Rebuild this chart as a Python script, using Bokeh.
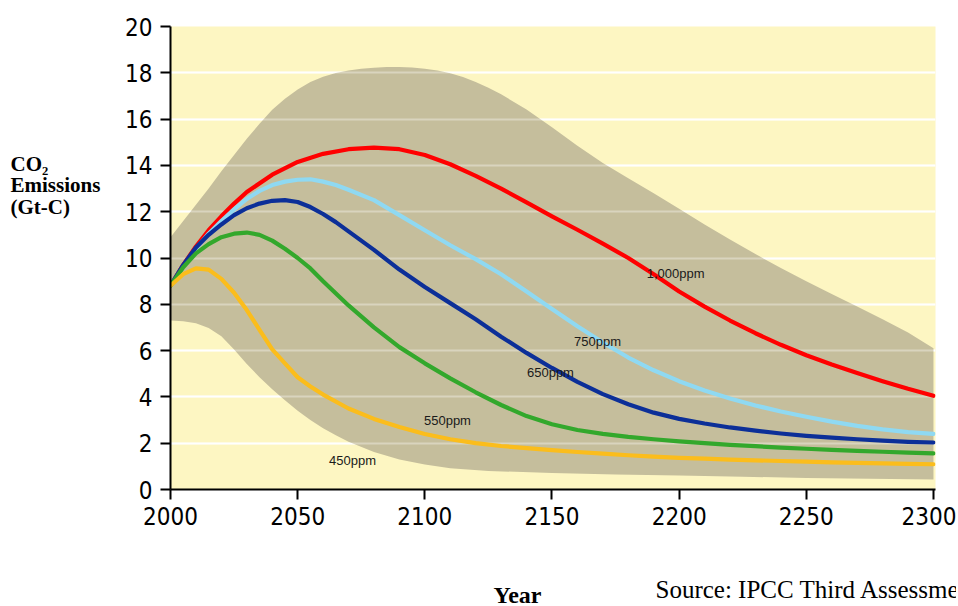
from bokeh.plotting import figure
from bokeh.models import ColumnDataSource, Label, FixedTicker, Range1d
from bokeh.core.properties import value
from bokeh.core.enums import CoordinateUnits
from bokeh.embed import file_html
from bokeh.resources import INLINE

# ---------------- data ----------------
x_ticks = [2000, 2050, 2100, 2150, 2200, 2250, 2300]
y_ticks = [0, 2, 4, 6, 8, 10, 12, 14, 16, 18, 20]

years_1000 = [2000, 2005, 2010, 2015, 2020, 2025, 2030, 2040, 2050, 2060, 2070, 2080, 2090, 2100,
              2110, 2120, 2130, 2140, 2150, 2160, 2170, 2180, 2190, 2200, 2210, 2220, 2230, 2240,
              2250, 2260, 2270, 2280, 2290, 2300]
ppm_1000 = [8.8, 9.7, 10.5, 11.2, 11.8, 12.35, 12.85, 13.6, 14.15, 14.5, 14.7, 14.77, 14.7, 14.45,
            14.05, 13.55, 13.0, 12.4, 11.8, 11.22, 10.62, 10.0, 9.3, 8.55, 7.9, 7.3, 6.75, 6.25,
            5.8, 5.4, 5.03, 4.68, 4.35, 4.05]

years_750 = [2000, 2005, 2010, 2015, 2020, 2025, 2030, 2035, 2040, 2045, 2050, 2055, 2060, 2065,
             2070, 2080, 2090, 2100, 2110, 2120, 2130, 2140, 2150, 2160, 2170, 2180, 2190, 2200,
             2210, 2220, 2230, 2240, 2250, 2260, 2270, 2280, 2290, 2300]
ppm_750 = [8.8, 9.65, 10.4, 11.05, 11.6, 12.1, 12.55, 12.9, 13.15, 13.3, 13.38, 13.4, 13.3, 13.15,
           12.95, 12.5, 11.85, 11.2, 10.55, 9.95, 9.3, 8.55, 7.8, 7.05, 6.35, 5.7, 5.15, 4.68,
           4.28, 3.93, 3.63, 3.37, 3.14, 2.93, 2.75, 2.6, 2.48, 2.4]

years_650 = [2000, 2005, 2010, 2015, 2020, 2025, 2030, 2035, 2040, 2045, 2050, 2055, 2060, 2065,
             2070, 2080, 2090, 2100, 2110, 2120, 2130, 2140, 2150, 2160, 2170, 2180, 2190, 2200,
             2210, 2220, 2230, 2240, 2250, 2260, 2270, 2280, 2290, 2300]
ppm_650 = [8.8, 9.7, 10.45, 11.0, 11.45, 11.85, 12.15, 12.35, 12.47, 12.5, 12.42, 12.2, 11.9, 11.55,
           11.15, 10.35, 9.5, 8.75, 8.05, 7.35, 6.6, 5.9, 5.25, 4.65, 4.12, 3.68, 3.32, 3.05,
           2.85, 2.68, 2.54, 2.42, 2.32, 2.24, 2.17, 2.11, 2.06, 2.03]

years_550 = [2000, 2005, 2010, 2015, 2020, 2025, 2030, 2035, 2040, 2045, 2050, 2055, 2060, 2070,
             2080, 2090, 2100, 2110, 2120, 2130, 2140, 2150, 2160, 2170, 2180, 2190, 2200, 2210,
             2220, 2230, 2240, 2250, 2260, 2270, 2280, 2290, 2300]
ppm_550 = [8.8, 9.6, 10.2, 10.6, 10.9, 11.05, 11.1, 11.0, 10.75, 10.4, 10.0, 9.55, 9.0, 7.95,
           7.0, 6.15, 5.45, 4.8, 4.2, 3.65, 3.17, 2.82, 2.57, 2.4, 2.27, 2.17, 2.08, 2.0,
           1.93, 1.87, 1.81, 1.76, 1.71, 1.67, 1.63, 1.59, 1.56]

years_450 = [2000, 2005, 2010, 2015, 2020, 2025, 2030, 2035, 2040, 2045, 2050, 2055, 2060, 2070,
             2080, 2090, 2100, 2110, 2120, 2130, 2140, 2150, 2160, 2170, 2180, 2190, 2200, 2210,
             2220, 2230, 2240, 2250, 2260, 2270, 2280, 2290, 2300]
ppm_450 = [8.8, 9.3, 9.55, 9.5, 9.1, 8.5, 7.75, 6.9, 6.05, 5.45, 4.85, 4.45, 4.1, 3.5,
           3.05, 2.7, 2.4, 2.17, 2.0, 1.88, 1.79, 1.7, 1.62, 1.55, 1.48, 1.42, 1.37, 1.33,
           1.29, 1.26, 1.23, 1.2, 1.17, 1.15, 1.13, 1.11, 1.09]

band_upper_years = [2000, 2005, 2010, 2015, 2020, 2025, 2030, 2035, 2040, 2045, 2050, 2055, 2060,
                    2065, 2070, 2075, 2080, 2085, 2090, 2095, 2100, 2105, 2110, 2115, 2120, 2125,
                    2130, 2140, 2150, 2160, 2170, 2180, 2190, 2200, 2210, 2220, 2230, 2240, 2250,
                    2260, 2270, 2280, 2290, 2300]
band_upper = [10.9, 11.6, 12.3, 13.0, 13.75, 14.45, 15.15, 15.8, 16.4, 16.88, 17.28, 17.6, 17.83,
              17.99, 18.1, 18.17, 18.22, 18.25, 18.25, 18.23, 18.18, 18.1, 17.98, 17.82, 17.6, 17.35,
              17.07, 16.42, 15.65, 14.85, 14.1, 13.45, 12.8, 12.13, 11.45, 10.8, 10.17, 9.57, 9.0,
              8.45, 7.9, 7.35, 6.78, 6.1]

band_lower_years = [2000, 2005, 2010, 2015, 2020, 2025, 2030, 2035, 2040, 2045, 2050, 2055, 2060,
                    2065, 2070, 2080, 2090, 2100, 2110, 2125, 2150, 2175, 2200, 2225, 2250, 2275,
                    2300]
band_lower = [7.3, 7.27, 7.18, 6.98, 6.62, 6.05, 5.42, 4.85, 4.33, 3.85, 3.4, 3.0, 2.65,
              2.34, 2.06, 1.62, 1.3, 1.08, 0.92, 0.8, 0.71, 0.65, 0.6, 0.55, 0.5, 0.46,
              0.43]

label_texts = ["1,000ppm", "750ppm", "650ppm", "550ppm", "450ppm"]
label_years = [2198.6, 2167.9, 2149.4, 2108.9, 2071.6]
label_values = [9.33, 6.39, 5.05, 2.98, 1.25]

y_title = "CO\u2082\nEmissions\n(Gt-C)"
x_title = "Year"
source_note = "Source: IPCC Third Assessment Report"

# ---------------- styles ----------------
series = [
    (years_1000, ppm_1000, "#ff0000"),
    (years_750, ppm_750, "#8fd9f2"),
    (years_650, ppm_650, "#0c2f98"),
    (years_550, ppm_550, "#33a82c"),
    (years_450, ppm_450, "#fbbd1c"),
]

W, H = 956, 606
X0, X1 = 2000, 2300.8
FRAME_L, FRAME_T, FRAME_W, FRAME_H = 170, 26, 765, 463   # canvas pixels

p = figure(width=W, height=H,
           x_range=Range1d(X0, X1), y_range=Range1d(0, 20),
           output_backend="svg", toolbar_location=None,
           min_border_left=FRAME_L, min_border_top=FRAME_T,
           min_border_right=W - FRAME_L - FRAME_W,
           min_border_bottom=H - FRAME_T - FRAME_H)
p.background_fill_color = "#fdf6c2"
p.border_fill_color = "white"
p.outline_line_color = None

p.xgrid.visible = False
p.ygrid.ticker = FixedTicker(ticks=y_ticks[1:-1])
p.ygrid.grid_line_color = "white"
p.ygrid.grid_line_width = 2

tick_font = "DejaVu Sans Condensed, Liberation Sans, sans-serif"
p.xaxis.ticker = FixedTicker(ticks=x_ticks)
p.yaxis.ticker = FixedTicker(ticks=y_ticks)
for ax in (p.xaxis, p.yaxis):
    ax.axis_line_color = "black"
    ax.axis_line_width = 2
    ax.major_tick_line_color = "black"
    ax.major_tick_line_width = 2
    ax.major_tick_in = 0
    ax.major_tick_out = 10
    ax.minor_tick_line_color = None
    ax.major_label_text_font = tick_font
    ax.major_label_text_font_size = "24px"
    ax.major_label_text_color = "black"
p.xaxis.major_label_standoff = 7
p.yaxis.major_label_standoff = 8

# uncertainty band
band_x = band_upper_years + band_lower_years[::-1]
band_y = band_upper + band_lower[::-1]
p.patch(band_x, band_y, fill_color="#c5be9c", line_color=None)
# gridlines showing faintly through the band
p.hspan(y=y_ticks[1:-1], line_color="white", line_alpha=0.35, line_width=2)

for yrs, vals, col in series:
    p.line(yrs, vals, line_color=col, line_width=4.2, line_join="round", line_cap="round")

lab_src = ColumnDataSource(dict(x=label_years, y=label_values, t=label_texts))
p.text(x="x", y="y", text="t", source=lab_src, text_font=value("Liberation Sans"),
       text_font_size="13px", text_color="#1a1a1a", text_align="center", text_baseline="middle")

# ---------------- texts outside the frame (side panels, so not clipped) ----------------
CANVAS = "canvas" in CoordinateUnits
U = "canvas" if CANVAS else "screen"


def place(px, py):
    if CANVAS:
        return dict(x=px, y=py, x_units=U, y_units=U)
    return dict(x=px - FRAME_L, y=FRAME_T + FRAME_H - py, x_units=U, y_units=U)


serif = "Liberation Serif"
p.add_layout(Label(text=y_title, text_font=serif, text_font_style="bold", text_font_size="21px",
                   text_line_height=0.9, text_baseline="top", text_align="left",
                   text_color="black", **place(10, 151)), "left")
p.add_layout(Label(text=x_title, text_font=serif, text_font_style="bold", text_font_size="24px",
                   text_baseline="middle", text_align="center", text_color="black",
                   **place(517, 594)), "below")
p.add_layout(Label(text=source_note, text_font=serif, text_font_size="25px",
                   text_baseline="middle", text_align="left", text_color="black",
                   **place(655, 589)), "below")

open("out.html", "w").write(file_html(p, INLINE))
